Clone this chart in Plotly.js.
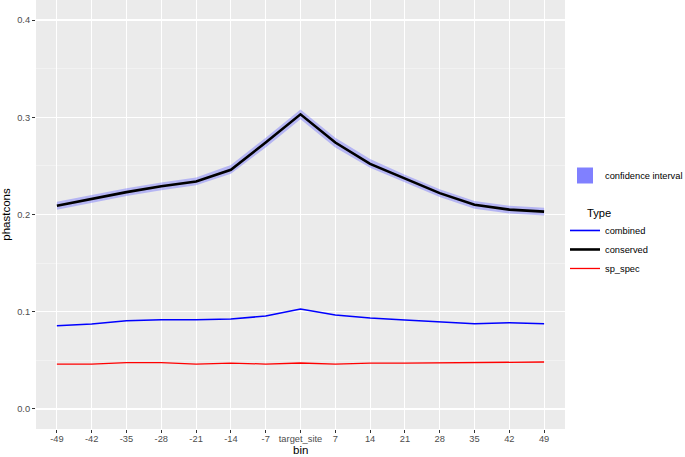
<!DOCTYPE html>
<html>
<head>
<meta charset="utf-8">
<script src="https://cdn.plot.ly/plotly-3.0.1.min.js"></script>
<style>
  html, body { margin: 0; padding: 0; background: white; }
  #chart { width: 685px; height: 457px; }
</style>
</head>
<body>
<div id="chart"></div>
<script>
/* phastcons profile around the target site */

const bins = ['-49', '-42', '-35', '-28', '-21', '-14', '-7', 'target_site',
  '7', '14', '21', '28', '35', '42', '49'];

const conserved = [0.209, 0.216, 0.223, 0.229, 0.234, 0.246, 0.274, 0.303,
  0.274, 0.252, 0.237, 0.222, 0.210, 0.205, 0.203];
const ciLower = [0.205, 0.212, 0.219, 0.225, 0.230, 0.242, 0.269, 0.298,
  0.269, 0.248, 0.233, 0.218, 0.206, 0.201, 0.199];
const ciUpper = [0.213, 0.220, 0.227, 0.233, 0.238, 0.251, 0.279, 0.308,
  0.279, 0.257, 0.241, 0.226, 0.214, 0.209, 0.207];
const combined = [0.0856, 0.0874, 0.0908, 0.0918, 0.0918, 0.0925, 0.0956, 0.1028,
  0.0966, 0.0935, 0.0915, 0.0898, 0.0877, 0.0887, 0.0877];
const spSpec = [0.0462, 0.0462, 0.0476, 0.0476, 0.0462, 0.0472, 0.0462, 0.0473,
  0.0462, 0.0472, 0.0472, 0.0475, 0.0475, 0.0483, 0.0483];

const font = 'Liberation Sans, Arial, sans-serif';
const tickSize = 9.3;

let data = [
  { // ribbon lower edge
    x: bins, y: ciLower,
    type: 'scatter', mode: 'lines',
    line: {width: 0, color: 'rgba(0,0,0,0)'},
    showlegend: false, hoverinfo: 'skip',
  },
  { // ribbon upper edge, filled down to the lower one
    x: bins, y: ciUpper,
    type: 'scatter', mode: 'lines',
    fill: 'tonexty',
    fillcolor: 'rgba(100,100,255,0.4)',
    line: {width: 0, color: 'rgba(0,0,0,0)'},
    showlegend: false, hoverinfo: 'skip',
  },
  { // legend key only for the ribbon
    x: [null], y: [null],
    name: 'confidence interval',
    type: 'scatter', mode: 'markers',
    marker: {symbol: 'square', size: 16, color: '#8080ff'},
    legend: 'legend2',
  },
  {
    x: bins, y: combined, name: 'combined',
    type: 'scatter', mode: 'lines',
    line: {color: '#0000ff', width: 1.6},
  },
  {
    x: bins, y: conserved, name: 'conserved',
    type: 'scatter', mode: 'lines',
    line: {color: '#000000', width: 2.6},
  },
  {
    x: bins, y: spSpec, name: 'sp_spec',
    type: 'scatter', mode: 'lines',
    line: {color: '#ff0000', width: 1.3},
  },
];

let layout = {
  width: 685,
  height: 457,
  paper_bgcolor: 'white',
  plot_bgcolor: '#ebebeb',
  margin: {l: 36, r: 118, t: 0, b: 28},
  font: {family: font, color: '#000000'},
  showlegend: true,
  xaxis: {
    type: 'category',
    range: [-0.6, 14.6],
    showgrid: true,
    gridcolor: 'white',
    gridwidth: 1.1,
    zeroline: false,
    ticks: 'outside',
    ticklen: 3,
    tickcolor: '#333333',
    ticklabelstandoff: -2,
    tickfont: {size: tickSize, color: '#4d4d4d', family: font},
    tickangle: 0,
  },
  yaxis: {
    range: [-0.0206, 0.4206],
    tickvals: [0, 0.1, 0.2, 0.3, 0.4],
    ticktext: ['0.0', '0.1', '0.2', '0.3', '0.4'],
    showgrid: true,
    gridcolor: 'white',
    gridwidth: 1.1,
    zeroline: false,
    ticks: 'outside',
    ticklen: 3,
    tickcolor: '#333333',
    tickfont: {size: tickSize, color: '#4d4d4d', family: font},
    title: {text: 'phastcons', font: {size: 11.5, color: '#000000', family: font}, standoff: 4},
    minor: {
      tickvals: [0.05, 0.15, 0.25, 0.35],
      showgrid: true,
      gridcolor: '#f7f7f7',
      gridwidth: 0.6,
      ticks: '',
    },
  },
  annotations: [
    { // x axis title, placed by hand to sit under the tick labels
      text: 'bin',
      xref: 'x', x: 'target_site',
      yref: 'paper', y: -0.05,
      xanchor: 'center', yanchor: 'middle',
      showarrow: false,
      font: {size: 11.5, color: '#000000', family: font},
    },
    { // legend title, drawn apart so it lines up with the keys
      text: 'Type',
      xref: 'paper', x: 1.0377,
      yref: 'paper', y: 0.5035,
      xanchor: 'left', yanchor: 'middle',
      showarrow: false,
      font: {size: 11.2, color: '#000000', family: font},
    },
  ],
  legend: {
    xref: 'container', yref: 'container',
    x: 0.8248, xanchor: 'left',
    y: 0.5274, yanchor: 'top',
    bgcolor: 'rgba(0,0,0,0)',
    font: {size: tickSize, family: font},
    traceorder: 'normal',
    itemwidth: 30,
    tracegroupgap: 0,
  },
  legend2: {
    xref: 'container', yref: 'container',
    x: 0.8248, xanchor: 'left',
    y: 0.6477, yanchor: 'top',
    bgcolor: 'rgba(0,0,0,0)',
    font: {size: tickSize, family: font},
    itemwidth: 30,
  },
};

Plotly.newPlot('chart', data, layout, {displayModeBar: false, staticPlot: true});
</script>
</body>
</html>
